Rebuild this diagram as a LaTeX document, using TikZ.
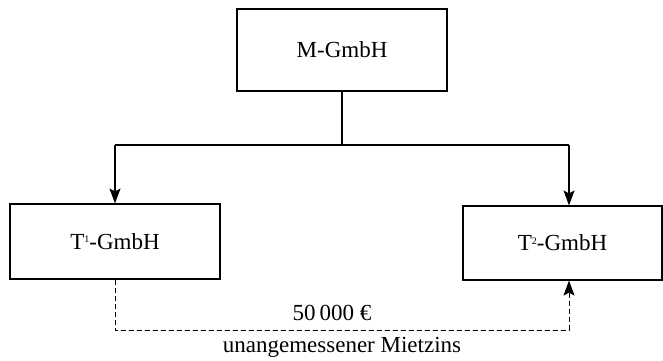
\documentclass[tikz,border=0pt]{standalone}
\usepackage{fontspec}
\setmainfont{Liberation Serif}
\usetikzlibrary{arrows.meta}
\newcommand{\idx}[1]{\raisebox{6.5pt}{\fontsize{10}{10}\selectfont #1}}
\begin{document}
\begin{tikzpicture}[x=1pt,y=-1pt,
  company/.style={draw,line width=1.1pt,rectangle,inner sep=0pt,font=\fontsize{23}{26}\selectfont},
  tree/.style={line width=1.1pt},
  arr/.style={-{Stealth[length=15pt,width=11pt,inset=3pt]}},
  rent/.style={line width=1pt,dash pattern=on 5pt off 3pt},
  lbl/.style={font=\fontsize{23}{26}\selectfont,inner sep=0pt}]
  \useasboundingbox (0,0) rectangle (663,360);
  % companies
  \node[company,minimum width=210pt,minimum height=82pt] (m) at (342,50) {M-GmbH};
  \node[company,minimum width=210pt,minimum height=75pt] (t1) at (115,241.5) {T\idx{1}-GmbH};
  \node[company,minimum width=199pt,minimum height=74pt] (t2) at (562.5,243) {T\idx{2}-GmbH};
  % branching connectors
  \coordinate (fork) at (342,145);
  \coordinate (lt) at (115,145);
  \coordinate (rt) at (569,145);
  \draw[tree] (m.south) -- (fork);
  \draw[tree] (lt) -- (rt);
  \draw[tree,arr] (lt) -- (t1.north -| lt);
  \draw[tree,arr] (rt) -- (t2.north -| rt);
  % rent payment
  \coordinate (pl) at (115,330);
  \coordinate (pr) at (569,330);
  \draw[rent] (t1.south) -- (pl) -- (pr);
  \draw[rent,arr] (pr) -- (t2.south -| pr);
  \node[lbl] (amt) at (332,313) {50\,000 €};
  \node[lbl] (why) at (342,347) {unangemessener Mietzins};
\end{tikzpicture}
\end{document}
